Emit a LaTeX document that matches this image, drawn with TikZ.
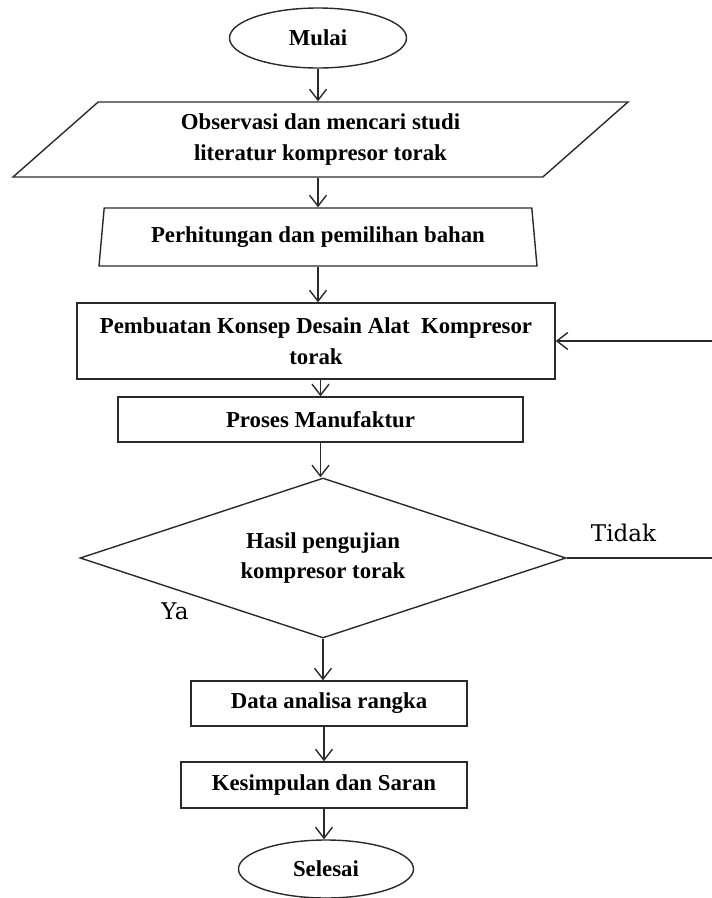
\documentclass[tikz,border=0pt]{standalone}
\usepackage{fontspec}
\setmainfont{Liberation Serif}
\newfontfamily\labfont{DejaVu Serif}
\usetikzlibrary{shapes.geometric,arrows.meta,calc}
\definecolor{lc}{HTML}{2A2A2A}
\begin{document}
\begin{tikzpicture}[x=1pt,y=-1pt,
  every node/.style={font=\fontsize{22.8}{30.5}\selectfont\bfseries, inner sep=0pt, align=center, text=black},
  shp/.style={draw=lc, line width=1.4pt},
  box/.style={shp, rectangle},
  term/.style={shp, ellipse},
  arr/.style={draw=lc, line width=1.4pt, -{Straight Barb[length=11pt,width=17pt,line width=1.4pt]}},
  lab/.style={font=\fontsize{23}{28}\selectfont\labfont, text=black}
]
\useasboundingbox (0,0) rectangle (712,898);

\node[term, minimum width=177pt, minimum height=60pt] (start) at (318,38) {Mulai};
\node[shp, trapezium, trapezium left angle=31, trapezium right angle=149,
      trapezium stretches body, minimum width=615pt, minimum height=75pt] (obs) at (320.5,139.5)
      {Observasi dan mencari studi\\literatur kompresor torak};
\node[shp, trapezium, trapezium left angle=76, trapezium right angle=76,
      trapezium stretches body, minimum width=438pt, minimum height=58pt] (perh) at (318,237)
      {Perhitungan dan pemilihan bahan};
\node[box, minimum width=478pt, minimum height=76pt] (pemb) at (316,341)
      {Pembuatan Konsep Desain Alat\ \ Kompresor\\torak};
\node[box, minimum width=405pt, minimum height=45pt] (pros) at (320.5,419.5) {Proses Manufaktur};
\node[shp, diamond, aspect=3, minimum width=486pt, minimum height=160pt] (dia) at (323,558)
      {Hasil pengujian\\kompresor torak};
\node[box, minimum width=276pt, minimum height=45pt] (data) at (329,703.5) {Data analisa rangka};
\node[box, minimum width=286pt, minimum height=46pt] (kes) at (324,785) {Kesimpulan dan Saran};
\node[term, minimum width=175pt, minimum height=58pt] (end) at (326,869) {Selesai};

\node[lab] (tidak) at (623.5,533) {Tidak};
\node[lab] (ya) at (175,611) {Ya};

\coordinate (fb) at (714,0);

\draw[arr] (start.south) -- (start.south |- obs.north);
\draw[arr] (obs.south -| perh.north) -- (perh.north);
\draw[arr] (perh.south) -- (perh.south |- pemb.north);
\draw[arr] (pros.north |- pemb.south) -- (pros.north);
\draw[arr] (pros.south) -- (pros.south |- dia.north);
\draw[arr] (dia.south) -- (dia.south |- data.north);
\draw[arr] (kes.north |- data.south) -- (kes.north);
\draw[arr] (kes.south) -- (kes.south |- end.north);
\draw[arr] (dia.east) -- (dia.east -| fb) |- (pemb.east);
\end{tikzpicture}
\end{document}
